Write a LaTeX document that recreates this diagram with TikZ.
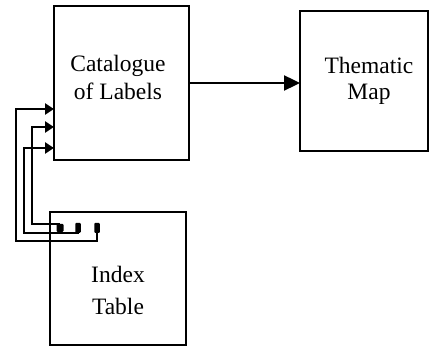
\documentclass[tikz,border=0pt]{standalone}
\usepackage{fontspec}
\setmainfont{Liberation Serif}
\usetikzlibrary{arrows.meta}
\begin{document}
\begin{tikzpicture}[x=1pt,y=-1pt,
  box/.style={draw, line width=2.5pt, inner sep=0pt, outer sep=0pt},
  lbl/.style={anchor=base, inner sep=0pt, font=\fontsize{23.5}{29}\selectfont},
  conn/.style={line width=2.4pt},
  smallarrow/.style={-{Triangle[length=9pt,width=11pt]}},
  bigarrow/.style={line width=2.4pt, -{Triangle[length=16pt,width=15pt]}},
  blob/.style={fill=black, inner sep=0pt, outer sep=0pt, rounded corners=1pt}]
\useasboundingbox (0,0) rectangle (431,347);
\node[box, minimum width=135pt, minimum height=154pt] (cat) at (121.5,83) {};
\node[box, minimum width=128pt, minimum height=140pt] (map) at (364,81) {};
\node[box, minimum width=136pt, minimum height=133pt] (idx) at (118,278.5) {};
\node[lbl] (cat1) at (118,72) {Catalogue};
\node[lbl] (cat2) at (118,100) {of Labels};
\node[lbl] (map1) at (369,74) {Thematic};
\node[lbl] (map2) at (369,100) {Map};
\node[lbl] (idx1) at (118,283) {Index};
\node[lbl] (idx2) at (118,315) {Table};
\draw[bigarrow] (cat.east |- 0,83) -- (map.west |- 0,83);
% markers
\node[blob, minimum width=7pt, minimum height=8pt] (m1) at (60,228) {};
\node[blob, minimum width=5.5pt, minimum height=10pt] (m2) at (78,228) {};
\node[blob, minimum width=5.5pt, minimum height=10pt] (m3) at (97,228) {};
\coordinate (a1) at (16,109);
\coordinate (a2) at (32,127);
\coordinate (a3) at (24,148);
\draw[conn, smallarrow] (m3.center) -- (97,241) -| (a1) -- (a1 -| cat.west);
\draw[conn, smallarrow] (m1.north) -- (60,224) -| (a2) -- (a2 -| cat.west);
\draw[conn, smallarrow] (m2.center) |- (24,233) -- (a3) -- (a3 -| cat.west);
\end{tikzpicture}
\end{document}
